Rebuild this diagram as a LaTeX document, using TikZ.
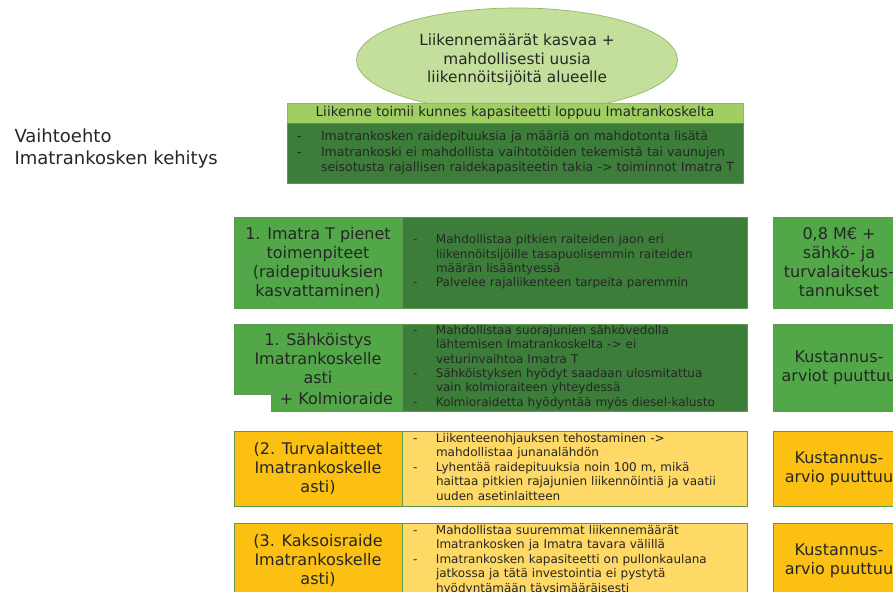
\documentclass[tikz,border=0pt]{standalone}
\usepackage{fontspec}
\setmainfont{DejaVu Sans}
\usetikzlibrary{shapes.geometric,positioning}
\definecolor{ellgreen}{HTML}{C4DF9B}
\definecolor{ellline}{HTML}{93B964}
\definecolor{lightgreen}{HTML}{9FCF63}
\definecolor{darkgreen}{HTML}{3D7D3A}
\definecolor{midgreen}{HTML}{52A848}
\definecolor{boxline}{HTML}{5A9A4A}
\definecolor{amber}{HTML}{FBC012}
\definecolor{lightyellow}{HTML}{FFD966}
\definecolor{txt}{HTML}{262626}
\newcommand{\bigtxt}{\fontsize{16}{19}\selectfont}
\newcommand{\smalltxt}{\fontsize{12}{14.4}\selectfont}
\begin{document}
\begin{tikzpicture}[x=1pt, y=-1pt,
	box/.style={draw=boxline, line width=0.7pt, anchor=north west, inner sep=0pt, outer sep=0pt, text=txt},
	optbox/.style={box, minimum width=168pt, align=center, font=\bigtxt},
	listbox/.style={box, minimum width=345pt, text width=323pt, inner xsep=11pt, align=left, font=\smalltxt},
	costbox/.style={box, minimum width=132pt, align=center, font=\bigtxt}]
	\useasboundingbox (0,0) rectangle (893,591);
	\clip (0,0) rectangle (893,591);
	% title
	\node[anchor=west, align=left, text=txt, font=\fontsize{18}{22}\selectfont] (title) at (11,149) {Vaihtoehto\\Imatrankosken kehitys};
	% goal and header
	\node[ellipse, draw=ellline, fill=ellgreen, line width=0.7pt, minimum width=321pt, minimum height=104pt, inner sep=0pt, align=center, text=txt, font=\fontsize{15.3}{18.5}\selectfont] (goal) at (517,60) {Liikennemäärät kasvaa +\\mahdollisesti uusia\\liikennöitsijöitä alueelle};
	\node[box, draw=ellline, fill=lightgreen, minimum width=456pt, minimum height=20pt, font=\fontsize{13.5}{16}\selectfont] (hdr) at (287,103) {Liikenne toimii kunnes kapasiteetti loppuu Imatrankoskelta};
	\node[box, fill=darkgreen, anchor=north, minimum width=456pt, text width=436pt, inner xsep=10pt, minimum height=60pt, align=left, font=\fontsize{12.5}{15.5}\selectfont] (hdrbody) at (hdr.south) {\begin{tabular}{@{}p{24pt}@{}l@{}}
		- & Imatrankosken raidepituuksia ja määriä on mahdotonta lisätä\\
		- & Imatrankoski ei mahdollista vaihtotöiden tekemistä tai vaunujen\\
		  & seisotusta rajallisen raidekapasiteetin takia -> toiminnot Imatra T
	\end{tabular}};
	% option 1
	\node[optbox, fill=midgreen, minimum height=91pt] (opt1) at (234,217) {1. Imatra T pienet\\toimenpiteet\\(raidepituuksien\\kasvattaminen)};
	\node[listbox, fill=darkgreen, minimum height=91pt] (list1) at (opt1.north east) {\begin{tabular}{@{}p{23pt}@{}l@{}}
		- & Mahdollistaa pitkien raiteiden jaon eri\\
		  & liikennöitsijöille tasapuolisemmin raiteiden\\
		  & määrän lisääntyessä\\
		- & Palvelee rajaliikenteen tarpeita paremmin
	\end{tabular}};
	\node[costbox, fill=midgreen, minimum height=91pt] (cost1) at (773,217) {0,8 M€ +\\sähkö- ja\\turvalaitekus-\\tannukset};
	% option 2
	\node[optbox, fill=midgreen, minimum height=70pt] (opt2) at (234,324) {1. Sähköistys\\Imatrankoskelle\\asti};
	\node[listbox, fill=darkgreen, minimum height=87pt] (list2) at (opt2.north east) {\begin{tabular}{@{}p{23pt}@{}l@{}}
		- & Mahdollistaa suorajunien sähkövedolla\\
		  & lähtemisen Imatrankoskelta -> ei\\
		  & veturinvaihtoa Imatra T\\
		- & Sähköistyksen hyödyt saadaan ulosmitattua\\
		  & vain kolmioraiteen yhteydessä\\
		- & Kolmioraidetta hyödyntää myös diesel-kalusto
	\end{tabular}};
	\node[box, fill=midgreen, anchor=south east, minimum width=131pt, minimum height=25pt, font=\bigtxt] (kolmio) at (list2.south west) {+ Kolmioraide};
	\node[costbox, fill=midgreen, minimum height=87pt] (cost2) at (773,324) {Kustannus-\\arviot puuttuu};
	% option 3
	\node[optbox, fill=amber, minimum height=75pt] (opt3) at (234,431) {(2. Turvalaitteet\\Imatrankoskelle\\asti)};
	\node[listbox, fill=lightyellow, minimum height=75pt] (list3) at (opt3.north east) {\begin{tabular}{@{}p{23pt}@{}l@{}}
		- & Liikenteenohjauksen tehostaminen ->\\
		  & mahdollistaa junanalähdön\\
		- & Lyhentää raidepituuksia noin 100 m, mikä\\
		  & haittaa pitkien rajajunien liikennöintiä ja vaatii\\
		  & uuden asetinlaitteen
	\end{tabular}};
	\node[costbox, fill=amber, minimum height=75pt] (cost3) at (773,431) {Kustannus-\\arvio puuttuu};
	% option 4
	\node[optbox, fill=amber, minimum height=75pt] (opt4) at (234,523) {(3. Kaksoisraide\\Imatrankoskelle\\asti)};
	\node[listbox, fill=lightyellow, minimum height=75pt] (list4) at (opt4.north east) {\begin{tabular}{@{}p{23pt}@{}l@{}}
		- & Mahdollistaa suuremmat liikennemäärät\\
		  & Imatrankosken ja Imatra tavara välillä\\
		- & Imatrankosken kapasiteetti on pullonkaulana\\
		  & jatkossa ja tätä investointia ei pystytä\\
		  & hyödyntämään täysimääräisesti
	\end{tabular}};
	\node[costbox, fill=amber, minimum height=75pt] (cost4) at (773,523) {Kustannus-\\arvio puuttuu};
\end{tikzpicture}
\end{document}
